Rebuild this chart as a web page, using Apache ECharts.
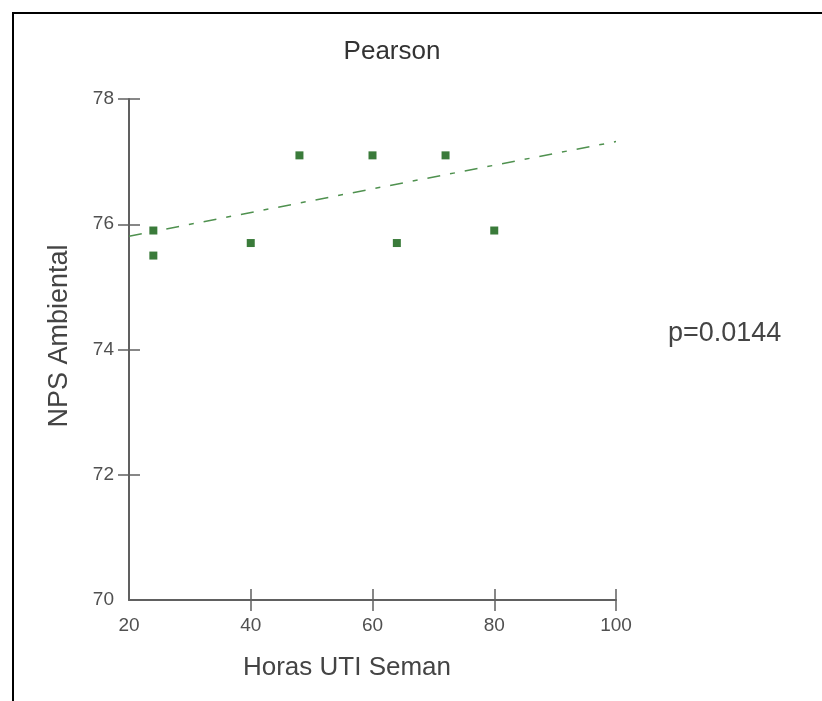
<!DOCTYPE html>
<html>
<head>
<meta charset="utf-8">
<title>Pearson</title>
<script src="https://cdn.jsdelivr.net/npm/echarts@6/dist/echarts.min.js"></script>
<style>
  html, body { margin: 0; padding: 0; background: #fff; }
  #chart { width: 822px; height: 701px; }
</style>
</head>
<body>
<div id="chart"></div>
<script>
// Weekly ICU hours vs. ambient NPS
const hours = [24, 24, 40, 48, 60, 64, 72, 80];
const nps = [75.9, 75.5, 75.7, 77.1, 77.1, 75.7, 77.1, 75.9];

// Fitted trend line end points
const trendX = [20, 100];
const trendY = [75.81, 77.32];

// Axis ticks
const xTicks = [20, 40, 60, 80, 100];
const yTicks = [70, 72, 74, 76, 78];

const titleText = 'Pearson';
const xName = 'Horas UTI Seman';
const yName = 'NPS Ambiental';
const pText = 'p=0.0144';

const FONT = '"Liberation Sans", Arial, sans-serif';
const AXIS_COLOR = '#606060';
const LABEL_COLOR = '#505050';

const chart = echarts.init(document.getElementById('chart'), null, { renderer: 'canvas' });

const xMin = xTicks[0], xMax = xTicks[xTicks.length - 1];
const yMin = yTicks[0], yMax = yTicks[yTicks.length - 1];

// Ticks cross the axis line: one axis draws the outer half, a twin draws the inner half
function xAxisCfg(inside, showLine, showLabel) {
  return {
    type: 'value', position: 'bottom', min: xMin, max: xMax, interval: 20,
    splitLine: { show: false },
    axisLine: { show: showLine, lineStyle: { color: AXIS_COLOR, width: 2 } },
    axisTick: { show: true, inside: inside, length: 11, customValues: xTicks.slice(1),
                lineStyle: { color: AXIS_COLOR, width: 1.5 } },
    axisLabel: { show: showLabel, margin: 16, color: LABEL_COLOR, fontSize: 19, fontFamily: FONT,
                 customValues: xTicks }
  };
}
function yAxisCfg(inside, showLine, showLabel) {
  return {
    type: 'value', position: 'left', min: yMin, max: yMax, interval: 2,
    splitLine: { show: false },
    axisLine: { show: showLine, lineStyle: { color: AXIS_COLOR, width: 2 } },
    axisTick: { show: true, inside: inside, length: 11, customValues: yTicks.slice(1),
                lineStyle: { color: AXIS_COLOR, width: 1.5 } },
    axisLabel: { show: showLabel, margin: 15, color: LABEL_COLOR, fontSize: 19, fontFamily: FONT,
                 customValues: yTicks }
  };
}

chart.setOption({
  animation: false,
  backgroundColor: '#fff',
  grid: { left: 129, right: 206, top: 99, bottom: 101, containLabel: false },
  xAxis: [xAxisCfg(false, true, true), xAxisCfg(true, false, false)],
  yAxis: [yAxisCfg(false, true, true), yAxisCfg(true, false, false)],
  series: [
    {
      type: 'line',
      xAxisIndex: 0, yAxisIndex: 0,
      data: trendX.map((x, i) => [x, trendY[i]]),
      symbol: 'none',
      lineStyle: { color: '#4f914f', width: 1.5, type: [13, 10, 5, 10] },
      z: 1
    },
    {
      type: 'scatter',
      xAxisIndex: 0, yAxisIndex: 0,
      data: hours.map((h, i) => [h, nps[i]]),
      symbol: 'rect',
      symbolSize: 8,
      itemStyle: { color: '#3a7b3a', opacity: 1 },
      z: 2
    }
  ],
  graphic: [
    {
      type: 'rect', silent: true,
      shape: { x: 13, y: 13, width: 1000, height: 1000 },
      style: { fill: 'none', stroke: '#000', lineWidth: 2 }
    },
    {
      type: 'text', x: 392, y: 52,
      style: { text: titleText, fontSize: 26, fontFamily: FONT, fill: '#333',
               align: 'center', verticalAlign: 'middle' }
    },
    {
      type: 'text', x: 347, y: 668,
      style: { text: xName, fontSize: 26, fontFamily: FONT, fill: '#444',
               align: 'center', verticalAlign: 'middle' }
    },
    {
      type: 'text', x: 60, y: 336, rotation: Math.PI / 2,
      style: { text: yName, fontSize: 27, fontFamily: FONT, fill: '#444',
               align: 'center', verticalAlign: 'middle' }
    },
    {
      type: 'text', x: 668, y: 334,
      style: { text: pText, fontSize: 27, fontFamily: FONT, fill: '#444',
               align: 'left', verticalAlign: 'middle' }
    }
  ]
});
</script>
</body>
</html>
